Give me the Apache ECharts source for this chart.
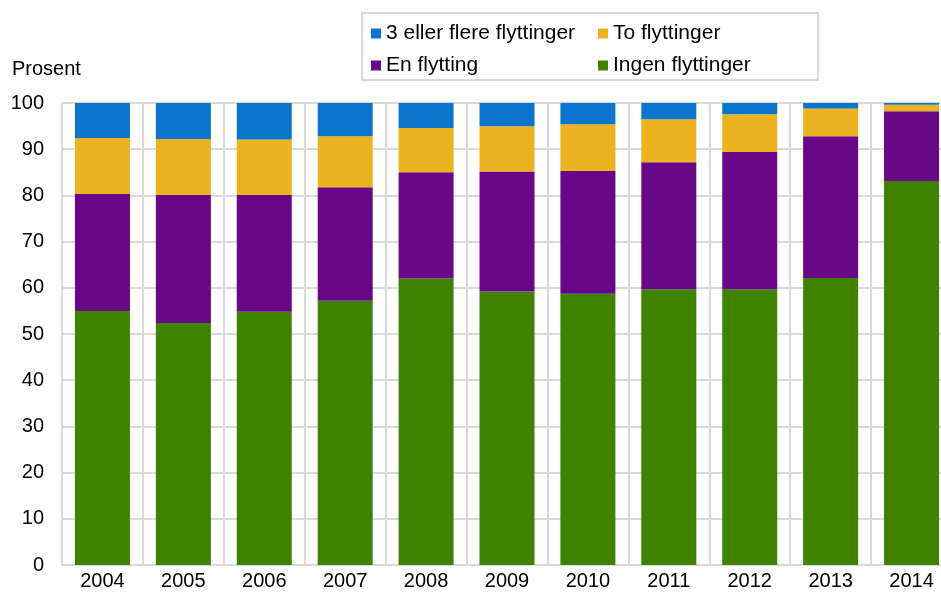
<!DOCTYPE html>
<html>
<head>
<meta charset="utf-8">
<script src="https://cdn.jsdelivr.net/npm/echarts@6/dist/echarts.min.js"></script>
<style>
  html, body { margin: 0; padding: 0; background: #fff; }
  #chart { width: 941px; height: 592px; }
</style>
</head>
<body>
<div id="chart"></div>
<script>
var years = ['2004', '2005', '2006', '2007', '2008', '2009', '2010', '2011', '2012', '2013', '2014']
var ingen = [55.0, 52.4, 54.8, 57.2, 62.0, 59.2, 58.7, 59.7, 59.7, 62.1, 83.1]
var en = [25.3, 27.7, 25.3, 24.55, 23.0, 26.0, 26.6, 27.5, 29.7, 30.7, 15.1]
var to = [12.1, 12.1, 12.0, 11.05, 9.6, 9.75, 10.1, 9.3, 8.15, 6.0, 1.4]
var tre = [7.6, 7.8, 7.9, 7.2, 5.4, 5.05, 4.6, 3.5, 2.45, 1.2, 0.4]
var yTicks = [0, 10, 20, 30, 40, 50, 60, 70, 80, 90, 100]

var font = '"Liberation Sans", Arial, sans-serif'
var gridColor = '#d9d9d9'

var chart = echarts.init(document.getElementById('chart'))

function bar(name, data, color) {
  return {
    name: name,
    type: 'bar',
    stack: 'total',
    barWidth: 55,
    data: data,
    itemStyle: { color: color },
    emphasis: { disabled: true }
  }
}

var legendCommon = {
  orient: 'vertical',
  top: 18,
  itemWidth: 10,
  itemHeight: 10,
  itemGap: 11,
  icon: 'rect',
  textStyle: { fontFamily: font, fontSize: 21, color: '#000' },
  selectedMode: false
}

chart.setOption({
  animation: false,
  legend: [
    Object.assign({}, legendCommon, { left: 366, data: ['3 eller flere flyttinger', 'En flytting'] }),
    Object.assign({}, legendCommon, { left: 593, data: ['To flyttinger', 'Ingen flyttinger'] })
  ],
  graphic: [
    {
      type: 'rect',
      shape: { x: 362, y: 13, width: 456, height: 67 },
      style: { fill: 'none', stroke: gridColor, lineWidth: 2 },
      z: -1
    },
    {
      type: 'text',
      left: 12,
      top: 59,
      style: { text: 'Prosent', fontFamily: font, fontSize: 20, fill: '#000' }
    }
  ],
  // the last category runs past the right edge of the picture
  grid: { left: 62, width: 890, top: 103, bottom: 27, containLabel: false, outerBoundsMode: 'none' },
  xAxis: {
    type: 'category',
    data: years,
    boundaryGap: true,
    axisLine: { show: true, lineStyle: { color: gridColor, width: 2 } },
    axisTick: { show: false },
    axisLabel: { fontFamily: font, fontSize: 20, color: '#000', margin: 6 },
    splitLine: { show: true, interval: 0, lineStyle: { color: gridColor, width: 2 } }
  },
  yAxis: {
    type: 'value',
    min: yTicks[0],
    max: yTicks[yTicks.length - 1],
    interval: 10,
    axisLine: { show: true, lineStyle: { color: gridColor, width: 2 } },
    axisTick: { show: false },
    axisLabel: { fontFamily: font, fontSize: 20, color: '#000', margin: 18 },
    splitLine: { show: true, lineStyle: { color: gridColor, width: 2 } }
  },
  series: [
    bar('Ingen flyttinger', ingen, '#3e8200'),
    bar('En flytting', en, '#680788'),
    bar('To flyttinger', to, '#ebb31f'),
    bar('3 eller flere flyttinger', tre, '#0b75cd')
  ]
})
</script>
</body>
</html>
